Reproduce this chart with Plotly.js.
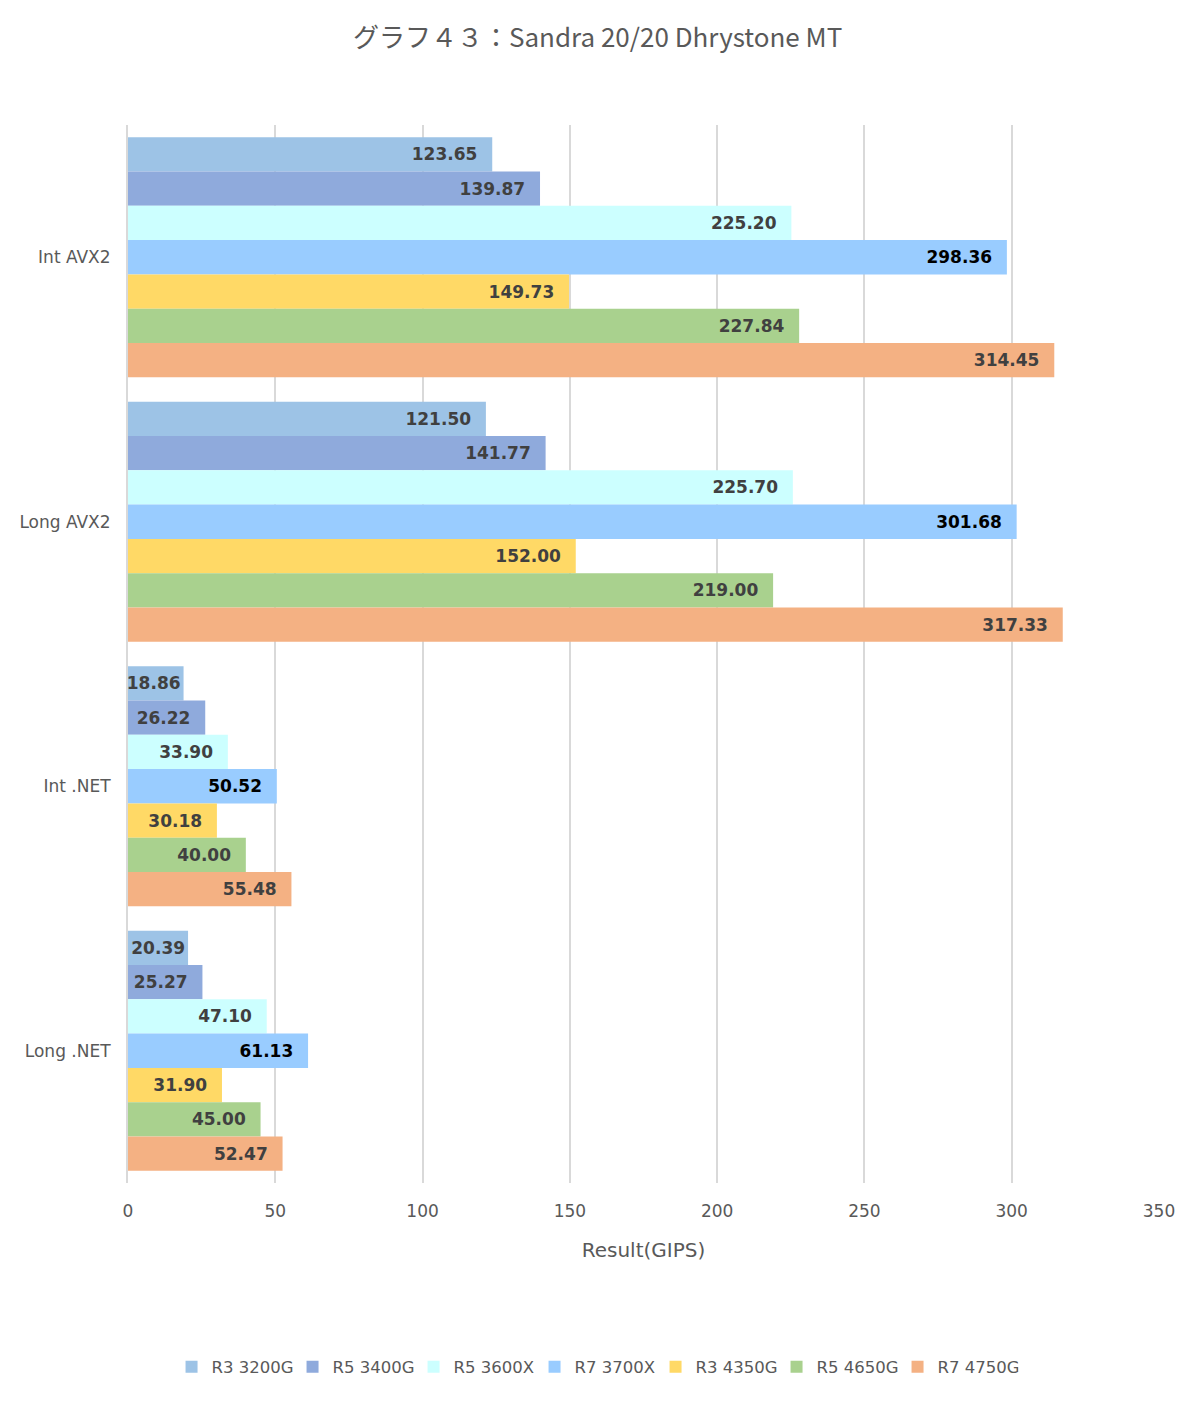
<!DOCTYPE html>
<html>
<head>
<meta charset="utf-8">
<script src="https://cdn.plot.ly/plotly-3.0.1.min.js"></script>
<style>
  html, body { margin: 0; padding: 0; background: #fff; }
  #chart { width: 1200px; height: 1402px; outline: 2px solid #d9d9d9; outline-offset: -2px; }
</style>
</head>
<body>
<div id="chart"></div>
<script>
const categories = ["Int AVX2", "Long AVX2", "Int .NET", "Long .NET"];
const seriesNames = ["R3 3200G", "R5 3400G", "R5 3600X", "R7 3700X", "R3 4350G", "R5 4650G", "R7 4750G"];
const r3_3200g = [123.65, 121.50, 18.86, 20.39];
const r5_3400g = [139.87, 141.77, 26.22, 25.27];
const r5_3600x = [225.20, 225.70, 33.90, 47.10];
const r7_3700x = [298.36, 301.68, 50.52, 61.13];
const r3_4350g = [149.73, 152.00, 30.18, 31.90];
const r5_4650g = [227.84, 219.00, 40.00, 45.00];
const r7_4750g = [314.45, 317.33, 55.48, 52.47];
const seriesValues = [r3_3200g, r5_3400g, r5_3600x, r7_3700x, r3_4350g, r5_4650g, r7_4750g];
const xTicks = [0, 50, 100, 150, 200, 250, 300, 350];

const colors = ["#9DC3E6", "#8FAADC", "#CCFFFF", "#99CCFF", "#FFD966", "#A9D18E", "#F4B183"];
const labelColors = ["#404040", "#404040", "#404040", "#000000", "#404040", "#404040", "#404040"];

const traces = seriesNames.map((name, i) => ({
  type: "bar",
  orientation: "h",
  name: name,
  y: categories,
  x: seriesValues[i],
  marker: { color: colors[i], line: { width: 0 } },
  // extra right padding only where the label has room inside the bar
  texttemplate: seriesValues[i].map(v => v >= 25 ? "%{x:.2f}\u00a0\u00a0" : "%{x:.2f}"),
  textposition: "inside",
  insidetextanchor: "end",
  textangle: 0,
  cliponaxis: false,
  insidetextfont: { family: "DejaVu Sans", size: 17, color: labelColors[i], weight: "bold" },
  hoverinfo: "skip"
}));

const layout = {
  width: 1200,
  height: 1402,
  paper_bgcolor: "#ffffff",
  plot_bgcolor: "#ffffff",
  margin: { l: 128, r: 41, t: 125, b: 219 },
  barmode: "group",
  bargap: 0.093,
  bargroupgap: 0,
  uniformtext: { mode: "show", minsize: 17 },
  title: {
    text: "グラフ４３：Sandra 20/20 Dhrystone MT",
    font: { family: "Noto Sans CJK JP", size: 26, color: "#595959" },
    x: 0.498, xref: "container", xanchor: "center",
    y: 1 - 38 / 1402, yref: "container", yanchor: "middle"
  },
  xaxis: {
    range: [0, 350],
    tickvals: xTicks,
    ticktext: xTicks.map(String),
    showgrid: true,
    gridcolor: "#d9d9d9",
    gridwidth: 2,
    zeroline: false,
    showline: false,
    ticks: "",
    ticklabelstandoff: 16,
    tickfont: { family: "DejaVu Sans", size: 17, color: "#595959" },
    title: {
      text: "Result(GIPS)",
      font: { family: "DejaVu Sans", size: 20, color: "#595959" },
      standoff: 22
    },
    fixedrange: true
  },
  yaxis: {
    type: "category",
    autorange: "reversed",
    showgrid: false,
    zeroline: false,
    showline: true,
    linecolor: "#d9d9d9",
    linewidth: 2,
    ticks: "",
    ticklabelstandoff: 12,
    tickfont: { family: "DejaVu Sans", size: 17, color: "#595959" },
    fixedrange: true
  },
  legend: {
    orientation: "h",
    x: 0.453, xanchor: "center",
    y: -(1367 - 1183) / 1058, yanchor: "middle",
    font: { family: "DejaVu Sans", size: 16.5, color: "#595959" },
    traceorder: "normal",
    itemwidth: 30,
    entrywidth: 76
  },
  showlegend: true
};

Plotly.newPlot("chart", traces, layout, { displayModeBar: false, staticPlot: true });
</script>
</body>
</html>
